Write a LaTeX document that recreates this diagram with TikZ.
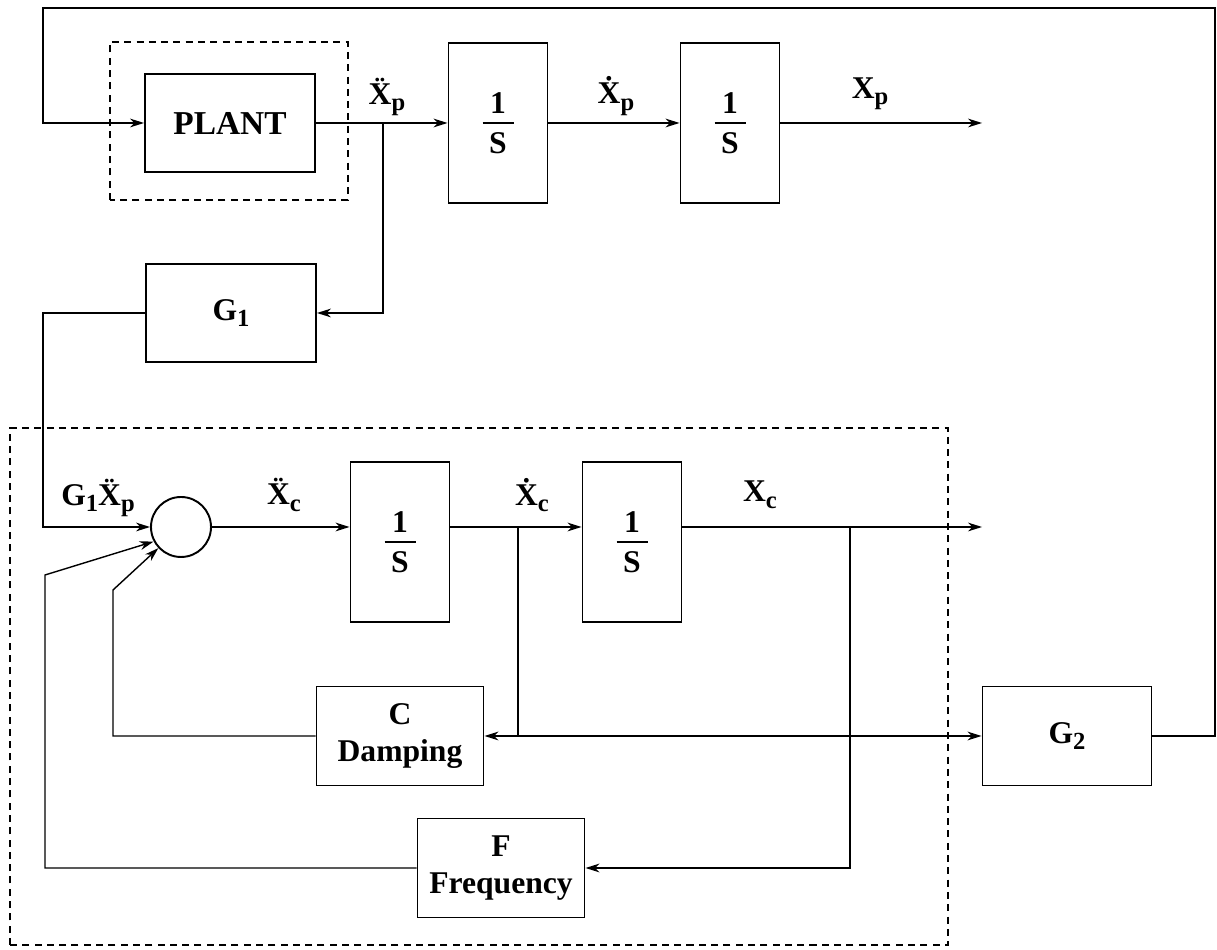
\documentclass[tikz,border=0pt]{standalone}
\usepackage{fontspec}
\setmainfont{Liberation Serif}
\usetikzlibrary{arrows.meta}
\newcommand{\sub}[1]{\raisebox{-0.45ex}{\fontsize{14}{16}\selectfont #1}}
\newcommand{\ddX}{\"{X}}
\newcommand{\dX}{\.{X}}
\newcommand{\inv}{\shortstack{1\\[2pt]\rule{0.62cm}{0.9pt}\\[2pt]S}}
\tikzset{
  blk/.style={draw,line width=1.1pt,minimum width=3.4cm,minimum height=1.96cm,
    align=center,inner sep=2pt,font=\bfseries\fontsize{18}{21}\selectfont},
  intg/.style={blk,minimum width=1.98cm,minimum height=3.2cm},
  wire/.style={line width=0.8pt},
  sig/.style={wire,-{Stealth[length=8pt,width=5pt]}},
  lbl/.style={font=\bfseries\fontsize{18}{21}\selectfont,inner sep=1pt},
  grp/.style={line width=0.8pt,dash pattern=on 4pt off 3pt}
}
\begin{document}
\begin{tikzpicture}
    \useasboundingbox (0,0) rectangle (24.34,19);
    % plant and its integrators
    \node[blk,font=\bfseries\fontsize{19}{21}\selectfont] (plant) at (4.6,16.54) {PLANT};
    \node[intg] (ip1) at (9.96,16.54) {\inv};
    \node[intg] (ip2) at (14.6,16.54) {\inv};
    \node[blk] (g1) at (4.62,12.74) {G\sub{1}};
    \coordinate (xpo) at (19.64,16.54);
    \coordinate (tap) at (7.66,16.54);
    \draw[grp] (2.2,15.0) rectangle (6.96,18.16);
    \draw[sig] (plant) -- (ip1);
    \draw[sig] (ip1) -- (ip2);
    \draw[sig] (ip2) -- (xpo);
    \draw[sig] (tap) |- (g1);
    \node[lbl] (lxpp) at (7.74,17.06) {\ddX\sub{p}};
    \node[lbl] (lxp) at (12.32,17.08) {\dX\sub{p}};
    \node[lbl] (lx) at (17.4,17.12) {X\sub{p}};
    % model loop
    \draw[grp] (0.2,0.1) rectangle (18.96,10.44);
    \node[draw,circle,line width=1.1pt,minimum size=1.2cm] (sum) at (3.62,8.46) {};
    \node[intg] (ic1) at (8.0,8.16) {\inv};
    \node[intg] (ic2) at (12.64,8.16) {\inv};
    \node[blk,minimum width=3.34cm,minimum height=1.98cm] (damp) at (8.0,4.28) {C\\Damping};
    \node[blk,minimum width=3.34cm,minimum height=1.98cm] (freq) at (10.02,1.64) {F\\Frequency};
    \node[blk,minimum width=3.38cm,minimum height=1.98cm] (g2) at (21.34,4.28) {G\sub{2}};
    \coordinate (xco) at (19.64,8.46);
    \coordinate (tv) at (10.36,8.46);
    \coordinate (tx) at (17.0,8.46);
    \coordinate (gw) at (0.86,8.46);
    \coordinate (dr) at (2.26,7.2);
    \coordinate (fr) at (0.9,7.5);
    \coordinate (ne) at (24.3,18.84);
    \coordinate (nw) at (0.86,18.84);
    \draw[sig] (sum.east) -- (sum.east -| ic1.west);
    \draw[sig] (ic1.east |- sum.east) -- (ic2.west |- sum.east);
    \draw[sig] (ic2.east |- sum.east) -- (xco);
    \draw[wire] (tv) -- (tv |- damp.east);
    \draw[wire,{Stealth[length=8pt,width=5pt]}-{Stealth[length=8pt,width=5pt]}] (damp.east) -- (g2.west);
    \draw[sig] (tx) |- (freq.east);
    \draw[sig] (damp.west) -| (dr) -- (sum.223);
    \draw[sig] (freq.west) -| (fr) -- (sum.208);
    \draw[sig] (g1.west) -| (gw) -- (sum.west);
    \draw[sig] (g2.east) -| (ne) -- (nw) |- (plant.west);
    \node[lbl] (lgx) at (1.96,9.04) {G\sub{1}\ddX\sub{p}};
    \node[lbl] (lxcc) at (5.68,9.1) {\ddX\sub{c}};
    \node[lbl] (lxc) at (10.64,9.1) {\dX\sub{c}};
    \node[lbl] (lc) at (15.2,9.1) {X\sub{c}};
\end{tikzpicture}
\end{document}
